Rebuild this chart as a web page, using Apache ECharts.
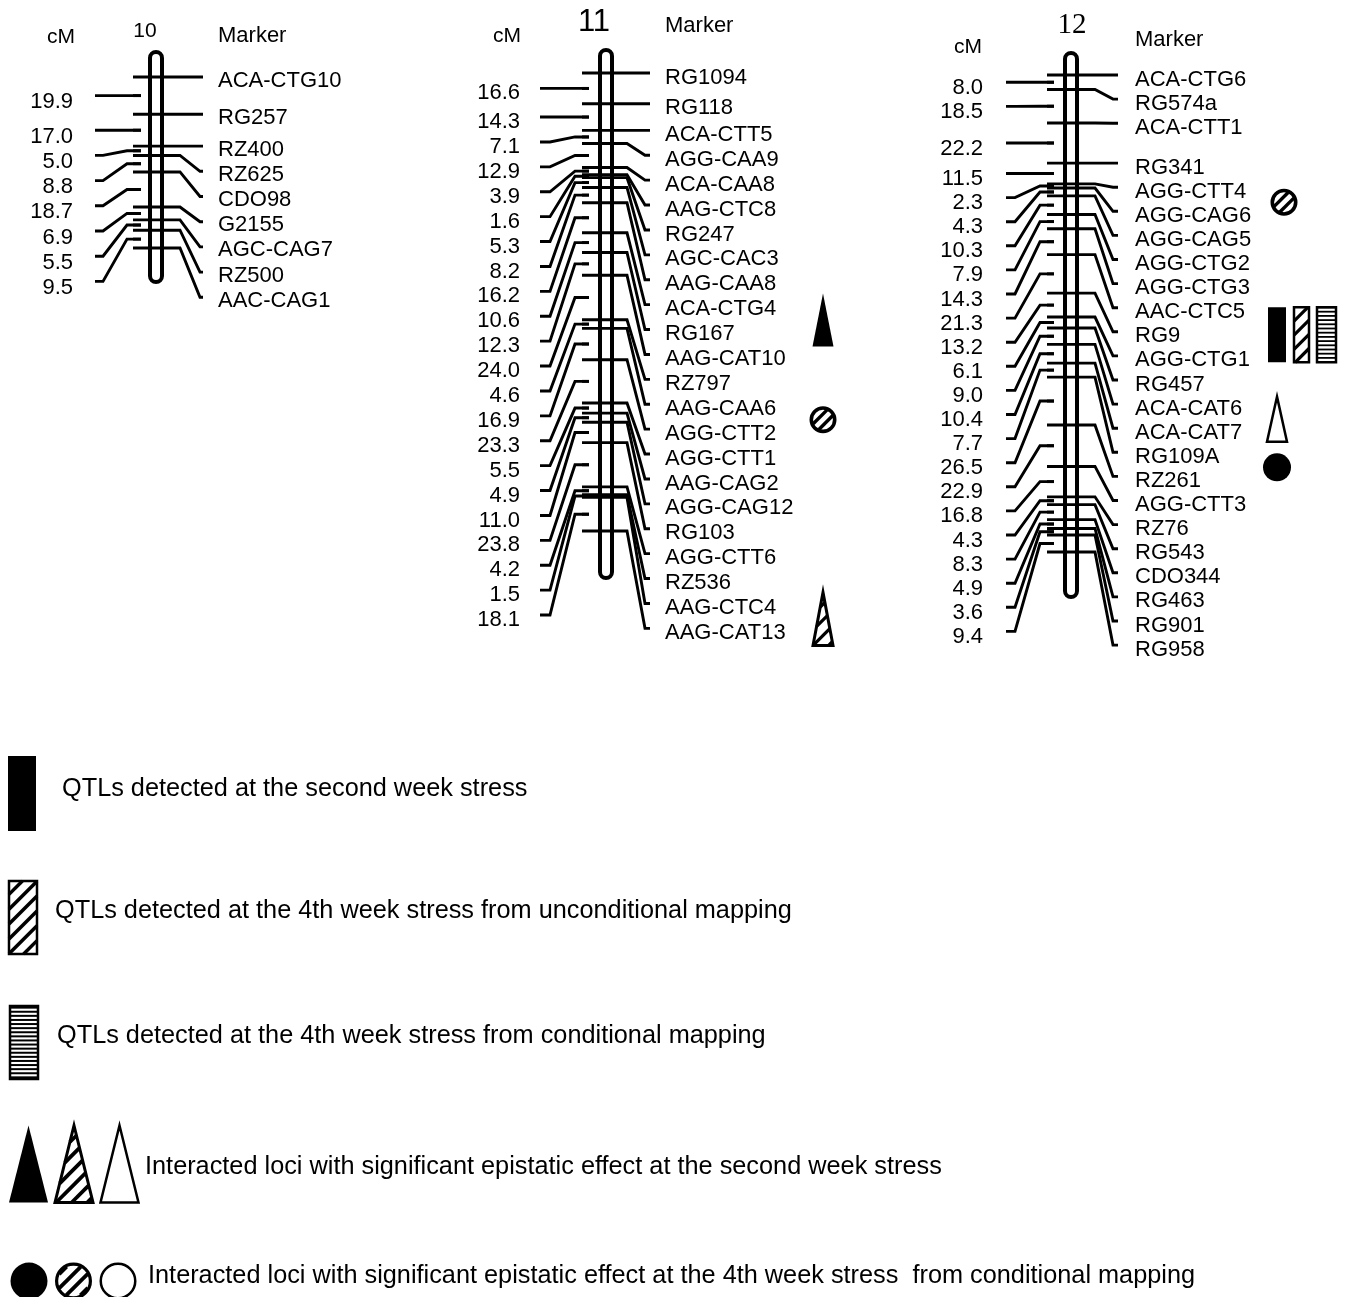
<!DOCTYPE html>
<html>
<head>
<meta charset="utf-8">
<script src="https://cdn.jsdelivr.net/npm/echarts@6/dist/echarts.min.js"></script>
<style>html,body{margin:0;padding:0;background:#fff}#c{width:1345px;height:1297px}</style>
</head>
<body>
<div id="c"></div>
<script>
// ================= DATA =================
const chromosomeNames = ['10', '11', '12'];

const chr10Markers = ['ACA-CTG10','RG257','RZ400','RZ625','CDO98','G2155','AGC-CAG7','RZ500','AAC-CAG1'];
const chr10Intervals = [19.9, 17.0, 5.0, 8.8, 18.7, 6.9, 5.5, 9.5];

const chr11Markers = ['RG1094','RG118','ACA-CTT5','AGG-CAA9','ACA-CAA8','AAG-CTC8','RG247','AGC-CAC3','AAG-CAA8',
  'ACA-CTG4','RG167','AAG-CAT10','RZ797','AAG-CAA6','AGG-CTT2','AGG-CTT1','AAG-CAG2','AGG-CAG12','RG103',
  'AGG-CTT6','RZ536','AAG-CTC4','AAG-CAT13'];
const chr11Intervals = [16.6, 14.3, 7.1, 12.9, 3.9, 1.6, 5.3, 8.2, 16.2, 10.6, 12.3, 24.0, 4.6, 16.9, 23.3, 5.5,
  4.9, 11.0, 23.8, 4.2, 1.5, 18.1];

const chr12Markers = ['ACA-CTG6','RG574a','ACA-CTT1','RG341','AGG-CTT4','AGG-CAG6','AGG-CAG5','AGG-CTG2','AGG-CTG3',
  'AAC-CTC5','RG9','AGG-CTG1','RG457','ACA-CAT6','ACA-CAT7','RG109A','RZ261','AGG-CTT3','RZ76','RG543',
  'CDO344','RG463','RG901','RG958'];
const chr12Intervals = [8.0, 18.5, 22.2, 11.5, 2.3, 4.3, 10.3, 7.9, 14.3, 21.3, 13.2, 6.1, 9.0, 10.4, 7.7, 26.5,
  22.9, 16.8, 4.3, 8.3, 4.9, 3.6, 9.4];

// QTL / epistasis annotations: [chromosome, fromMarker, toMarker, symbols]
const qtlAnnotations = [
  ['11', 'ACA-CTG4', 'RG167', ['triangleSolid']],
  ['11', 'AAG-CAA6', 'AGG-CTT2', ['circleHatched']],
  ['11', 'AAG-CTC4', 'AAG-CAT13', ['triangleHatched']],
  ['12', 'AGG-CTT4', 'AGG-CAG6', ['circleHatched']],
  ['12', 'RG9', 'RG9', ['rectSolid', 'rectHatched', 'rectStriped']],
  ['12', 'ACA-CAT6', 'ACA-CAT7', ['triangleOpen']],
  ['12', 'RG109A', 'RZ261', ['circleSolid']]
];

const legendSymbols = [
  ['rectSolid'],
  ['rectHatched'],
  ['rectStriped'],
  ['triangleSolid', 'triangleHatched', 'triangleOpen'],
  ['circleSolid', 'circleHatched', 'circleOpen']
];
const legendTexts = [
  'QTLs detected at the second week stress',
  'QTLs detected at the 4th week stress from unconditional mapping',
  'QTLs detected at the 4th week stress from conditional mapping',
  'Interacted loci with significant epistatic effect at the second week stress',
  'Interacted loci with significant epistatic effect at the 4th week stress  from conditional mapping'
];

const headerTexts = { cM: 'cM', marker: 'Marker' };

// ================= LAYOUT (positions / styles) =================
const FONT = '"Liberation Sans", Arial, Helvetica, sans-serif';
const LW = 2.9;
const LAYOUT = {
  '10': { cx: 156, top: 77, height: 171, gap: 25.2, padTop: 25, padBottom: 34,
          tickL: -23, tickR: 24, slantR: 44, lineR: 47, labelR: 62,
          intTick: -15, bend: -29, slantL: -53, lineL: -61, labelL: -83, dyR: 3.5, dyL: 6.5,
          annX: 217, annDx: {},
          title: { x: 145, y: 31, size: 21, family: FONT }, cM: { x: 61, y: 37 }, mk: { x: 218, y: 36 } },
  '11': { cx: 606, top: 73, height: 458, gap: 24.9, padTop: 23, padBottom: 47,
          tickL: -24, tickR: 21, slantR: 39, lineR: 44, labelR: 59,
          intTick: -17, bend: -31, slantL: -56, lineL: -66, labelL: -86, dyR: 4.5, dyL: 5,
          annX: 217, annDx: {},
          title: { x: 594, y: 22, size: 31, family: FONT }, cM: { x: 507, y: 36 }, mk: { x: 665, y: 26 } },
  '12': { cx: 1071, top: 75, height: 477, gap: 24.1, padTop: 22, padBottom: 45,
          tickL: -24, tickR: 24, slantR: 42, lineR: 47, labelR: 64,
          intTick: -17, bend: -31, slantL: -56, lineL: -65, labelL: -88, dyR: 4.5, dyL: 5.5,
          annX: 206, annDx: { circleHatched: 7 },
          title: { x: 1072, y: 25, size: 29, family: '"Liberation Serif", "Times New Roman", serif' },
          cM: { x: 968, y: 47 }, mk: { x: 1135, y: 40 } }
};
const SYM_SMALL = {
  triangleSolid: { w: 21, h: 53 }, triangleHatched: { w: 20, h: 53, hatch: 11, hatchW: 3.2, lw: 3 },
  triangleOpen: { w: 20, h: 45 },
  circleHatched: { w: 27, h: 27, hatch: 8, hatchW: 3.4, lw: 3.6 }, circleSolid: { w: 28, h: 28 },
  rectSolid: { w: 18, h: 55 }, rectHatched: { w: 15, h: 55, hatch: 10, hatchW: 3.2 },
  rectStriped: { w: 19, h: 55, stripe: 4.2, stripeW: 1.8 }
};
const SYM_GAP = 8;
const LEGEND_ROWS = [
  { y: 793.5, x0: 22, tx: 62, ty: 789 },
  { y: 917.5, x0: 23, tx: 55, ty: 911 },
  { y: 1042.5, x0: 24, tx: 57, ty: 1036 },
  { y: 1164, x0: 28.5, tx: 145, ty: 1167, step: 45.5 },
  { y: 1281, x0: 29, tx: 148, ty: 1276, step: 44.5 }
];
const SYM_LEGEND = {
  rectSolid: { w: 28, h: 75 }, rectHatched: { w: 28, h: 73, hatch: 10.5, hatchW: 3.5 },
  rectStriped: { w: 28, h: 73, stripe: 4.1, stripeW: 2 },
  triangleSolid: { w: 39, h: 77 }, triangleHatched: { w: 38, h: 77, hatch: 11, hatchW: 3.8, lw: 3 },
  triangleOpen: { w: 38, h: 77 },
  circleSolid: { w: 37, h: 37 }, circleHatched: { w: 37, h: 37, hatch: 10, hatchW: 3.8, lw: 3.2 },
  circleOpen: { w: 37, h: 37 }
};

// ================= HELPERS =================
function cumulative(intervals) {
  const out = [0];
  intervals.forEach(v => out.push(Math.round((out[out.length - 1] + v) * 100) / 100));
  return out;
}
function spread(ys, gap) {
  const out = [];
  ys.forEach((y, i) => out.push(i === 0 ? y : Math.max(y, out[i - 1] + gap)));
  return out;
}
function hatch(poly, angleDeg, spacing) {
  const a = angleDeg * Math.PI / 180, n = [Math.cos(a), Math.sin(a)];
  const ds = poly.map(p => p[0] * n[0] + p[1] * n[1]);
  const cxp = poly.reduce((s, p) => s + p[0], 0) / poly.length;
  const cyp = poly.reduce((s, p) => s + p[1], 0) / poly.length;
  const dc = cxp * n[0] + cyp * n[1] + spacing / 2;
  const dmin = Math.min(...ds), dmax = Math.max(...ds);
  let d = dc - Math.floor((dc - dmin) / spacing) * spacing;
  const segs = [];
  for (; d < dmax; d += spacing) {
    const pts = [];
    for (let k = 0; k < poly.length; k++) {
      const k2 = (k + 1) % poly.length, A = poly[k], B = poly[k2];
      const fa = ds[k] - d, fb = ds[k2] - d;
      if ((fa <= 0 && fb > 0) || (fa > 0 && fb <= 0)) {
        const t = fa / (fa - fb);
        pts.push([A[0] + (B[0] - A[0]) * t, A[1] + (B[1] - A[1]) * t]);
      }
    }
    if (pts.length >= 2) segs.push(pts.slice(0, 2));
  }
  return segs;
}
function lineEl(seg, w) {
  return { type: 'line', shape: { x1: seg[0][0], y1: seg[0][1], x2: seg[1][0], y2: seg[1][1] },
           style: { stroke: '#000', lineWidth: w } };
}
function circlePoly(x, y, r) {
  const p = [];
  for (let k = 0; k < 48; k++) { const t = k / 48 * Math.PI * 2; p.push([x + r * Math.cos(t), y + r * Math.sin(t)]); }
  return p;
}
function symbolEls(kind, x, y, spec) {
  const w = spec.w, h = spec.h, lw = spec.lw || 2.5;
  const els = [];
  let poly;
  const isCircle = kind.indexOf('circle') === 0;
  if (kind.indexOf('rect') === 0) {
    const x0 = x - w / 2, y0 = y - h / 2;
    poly = [[x0, y0], [x0 + w, y0], [x0 + w, y0 + h], [x0, y0 + h]];
  } else if (kind.indexOf('triangle') === 0) {
    poly = [[x, y - h / 2], [x + w / 2, y + h / 2], [x - w / 2, y + h / 2]];
  } else {
    poly = circlePoly(x, y, w / 2 - lw * 0.8);
  }
  const solid = kind.indexOf('Solid') > 0;
  if (isCircle) {
    els.push({ type: 'circle', shape: { cx: x, cy: y, r: solid ? w / 2 : w / 2 - lw / 2 },
               style: { fill: solid ? '#000' : '#fff', stroke: null } });
  } else {
    els.push({ type: 'polygon', shape: { points: poly }, style: { fill: solid ? '#000' : '#fff', stroke: null } });
  }
  if (!solid) {
    let segs = [];
    if (kind.indexOf('Hatched') > 0) segs = hatch(poly, 45, spec.hatch).map(s => [s, spec.hatchW]);
    if (kind.indexOf('Striped') > 0) segs = hatch(poly, 90, spec.stripe).map(s => [s, spec.stripeW]);
    segs.forEach(s => els.push(lineEl(s[0], s[1])));
    if (isCircle) {
      els.push({ type: 'circle', shape: { cx: x, cy: y, r: w / 2 - lw / 2 },
                 style: { fill: null, stroke: '#000', lineWidth: lw } });
    } else {
      els.push({ type: 'polygon', shape: { points: poly },
                 style: { fill: null, stroke: '#000', lineWidth: lw, lineJoin: 'miter' } });
    }
  }
  return els;
}
function symbolRow(kinds, x0, y, specs, step, dx) {
  const els = [];
  let cx = x0, prevW = null;
  kinds.forEach((k, i) => {
    const sp = specs[k];
    if (i > 0) cx += step ? step : (prevW / 2 + SYM_GAP + sp.w / 2);
    els.push(...symbolEls(k, cx + ((dx && kinds.length === 1 && dx[k]) || 0), y, sp));
    prevW = sp.w;
  });
  return els;
}

// ================= BUILD OPTION =================
const CHROMS = [
  { name: chromosomeNames[0], markers: chr10Markers, intervals: chr10Intervals },
  { name: chromosomeNames[1], markers: chr11Markers, intervals: chr11Intervals },
  { name: chromosomeNames[2], markers: chr12Markers, intervals: chr12Intervals }
];

const grids = [], xAxes = [], yAxes = [], series = [], graphics = [];
const TXT = (s, size, family) => ({ text: s, fill: '#000', font: size + 'px ' + (family || FONT) });

CHROMS.forEach((chr, gi) => {
  const L = LAYOUT[chr.name];
  const pos = cumulative(chr.intervals);
  const total = pos[pos.length - 1];
  const mids = chr.intervals.map((v, i) => (pos[i] + pos[i + 1]) / 2);
  grids.push({ left: L.cx - 1, width: 2, top: L.top, height: L.height });
  xAxes.push({ gridIndex: gi, type: 'value', min: -1, max: 1, show: false });
  yAxes.push({ gridIndex: gi, type: 'value', min: 0, max: total, inverse: true, show: false });

  const markerY = api => pos.map(p => api.coord([0, p])[1]);
  const labelY = api => spread(markerY(api), L.gap);

  // chromosome body
  series.push({
    type: 'custom', xAxisIndex: gi, yAxisIndex: gi, z: 1, silent: true,
    data: [[0, 0, total]],
    renderItem: (params, api) => {
      const p0 = api.coord([0, api.value(1)]), p1 = api.coord([0, api.value(2)]);
      const y0 = p0[1] - L.padTop, y1 = p1[1] + L.padBottom;
      return { type: 'rect', shape: { x: p0[0] - 6, y: y0, width: 12, height: y1 - y0, r: 6 },
               style: { fill: '#fff', stroke: '#000', lineWidth: 4 } };
    }
  });
  // markers
  series.push({
    type: 'custom', xAxisIndex: gi, yAxisIndex: gi, z: 3, silent: true,
    data: pos.map((p, i) => [0, p, i]),
    renderItem: (params, api) => {
      const i = api.value(2);
      const c = api.coord([0, api.value(1)]);
      const cx = c[0], y = c[1];
      const yl = labelY(api)[i];
      return { type: 'group', children: [
        { type: 'polyline', shape: { points: [[cx + L.tickL, y], [cx + L.tickR, y], [cx + L.slantR, yl], [cx + L.lineR, yl]] },
          style: { stroke: '#000', lineWidth: LW, fill: null } },
        { type: 'text', x: cx + L.labelR, y: yl + L.dyR,
          style: Object.assign(TXT(chr.markers[i], 22), { align: 'left', verticalAlign: 'middle' }) }
      ] };
    }
  });
  // intervals (cM distances)
  series.push({
    type: 'custom', xAxisIndex: gi, yAxisIndex: gi, z: 3, silent: true,
    data: mids.map((m, i) => [0, m, i]),
    renderItem: (params, api) => {
      const i = api.value(2);
      const c = api.coord([0, api.value(1)]);
      const cx = c[0], y = c[1];
      const ys = mids.map(m => api.coord([0, m])[1]);
      const yl = spread(ys, L.gap)[i];
      return { type: 'group', children: [
        { type: 'polyline', shape: { points: [[cx + L.tickL, y], [cx + L.intTick, y]] },
          style: { stroke: '#000', lineWidth: LW, fill: null } },
        { type: 'polyline', shape: { points: [[cx + L.intTick, y], [cx + L.bend, y], [cx + L.slantL, yl], [cx + L.lineL, yl]] },
          style: { stroke: '#000', lineWidth: LW, fill: null } },
        { type: 'text', x: cx + L.labelL, y: yl + L.dyL,
          style: Object.assign(TXT(chr.intervals[i].toFixed(1), 22), { align: 'right', verticalAlign: 'middle' }) }
      ] };
    }
  });
  // annotations
  const anns = qtlAnnotations.filter(a => a[0] === chr.name);
  if (anns.length) {
    series.push({
      type: 'custom', xAxisIndex: gi, yAxisIndex: gi, z: 4, silent: true,
      data: anns.map((a, i) => [0, pos[chr.markers.indexOf(a[1])], i]),
      renderItem: (params, api) => {
        const a = anns[api.value(2)];
        const ly = labelY(api);
        const y = (ly[chr.markers.indexOf(a[1])] + ly[chr.markers.indexOf(a[2])]) / 2 + 3;
        const cx = api.coord([0, 0])[0] + L.annX;
        return { type: 'group', children: symbolRow(a[3], cx, y, SYM_SMALL, null, L.annDx) };
      }
    });
  }
  // headers
  graphics.push({ type: 'text', x: L.title.x, y: L.title.y,
    style: Object.assign(TXT(chr.name, L.title.size, L.title.family), { align: 'center', verticalAlign: 'middle' }) });
  graphics.push({ type: 'text', x: L.cM.x, y: L.cM.y,
    style: Object.assign(TXT(headerTexts.cM, 21), { align: 'center', verticalAlign: 'middle' }) });
  graphics.push({ type: 'text', x: L.mk.x, y: L.mk.y,
    style: Object.assign(TXT(headerTexts.marker, 22), { align: 'left', verticalAlign: 'middle' }) });
});

// legend
LEGEND_ROWS.forEach((row, i) => {
  graphics.push({ type: 'group', children: symbolRow(legendSymbols[i], row.x0, row.y, SYM_LEGEND, row.step) });
  graphics.push({ type: 'text', x: row.tx, y: row.ty,
    style: Object.assign(TXT(legendTexts[i], 25.3), { align: 'left', verticalAlign: 'middle' }) });
});

const chart = echarts.init(document.getElementById('c'), null, { renderer: 'canvas' });
chart.setOption({
  animation: false,
  backgroundColor: '#fff',
  grid: grids, xAxis: xAxes, yAxis: yAxes,
  series: series,
  graphic: { elements: graphics }
});
</script>
</body>
</html>
